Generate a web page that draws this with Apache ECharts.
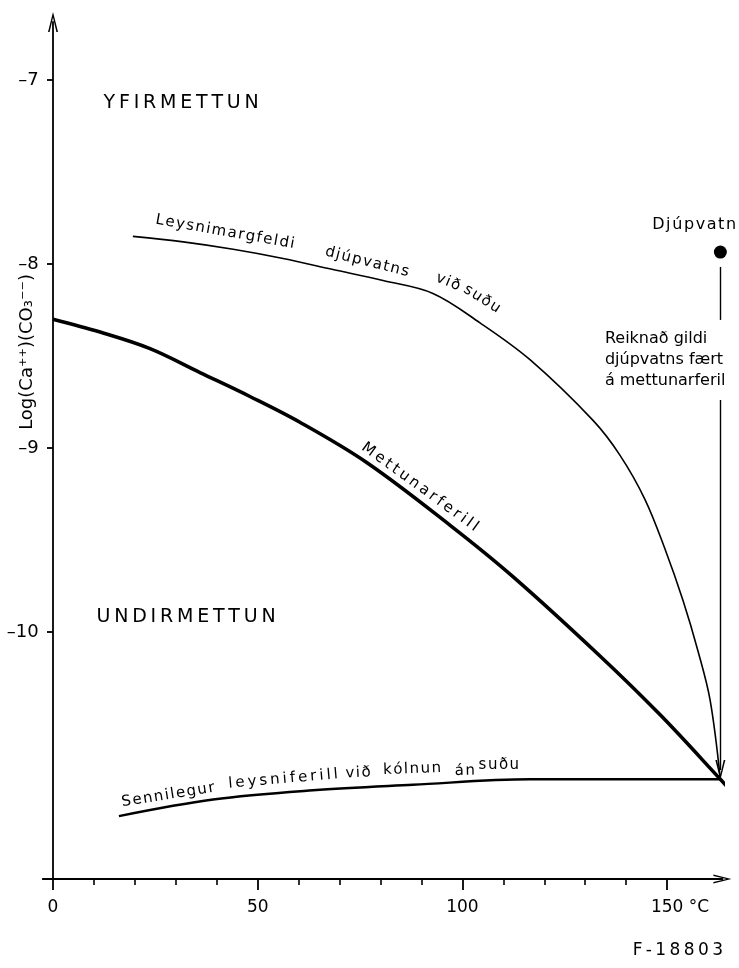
<!DOCTYPE html>
<html>
<head>
<meta charset="utf-8">
<title>Mettunarferill</title>
<script src="https://cdn.jsdelivr.net/npm/echarts@6/dist/echarts.min.js"></script>
<style>
html, body { margin: 0; padding: 0; background: #fff; }
#main { width: 739px; height: 968px; }
</style>
</head>
<body>
<div id="main"></div>
<script>
// hitastig (°C) og Log(Ca++)(CO3--)
var mettunT = [0, 11.5, 23.7, 35.9, 48.1, 60.3, 76.7, 97.0, 112.4, 133.6, 148.3, 163, 167.1];
var mettunLog = [-8.30, -8.37, -8.46, -8.59, -8.72, -8.86, -9.08, -9.42, -9.70, -10.13, -10.45, -10.80, -10.90];

var suduT = [19.5, 31.8, 44.0, 56.2, 68.4, 80.6, 92.8, 104.3, 116.5, 131.9, 138.5, 144.6, 149.5, 153.9, 157.5, 160.5, 163];
var suduLog = [-7.85, -7.88, -7.92, -7.97, -8.03, -8.09, -8.16, -8.32, -8.52, -8.85, -9.04, -9.28, -9.55, -9.83, -10.10, -10.37, -10.80];

var kolnunT = [16.1, 39.1, 63.5, 87.9, 116.5, 138.5, 163];
var kolnunLog = [-11.00, -10.91, -10.86, -10.83, -10.80, -10.80, -10.80];

var djupvatn = [163, -7.935];

var xTicks = [0, 50, 100, 150];
var xMinorTicks = [10, 20, 30, 40, 60, 70, 80, 90, 110, 120, 130, 140];
var yTicks = [-10, -9, -8, -7];

var chart = echarts.init(document.getElementById('main'));
var font = 'DejaVu Sans';
var ink = '#000';
var chevron = 'path://M0,20 L5,0 L10,20 L8.4,20 L5,5.5 L1.6,20 Z';
var THIN = '\u2009', HAIR = '\u200A';

function zip(a, b) {
	return a.map(function (v, i) { return [v, b[i]]; });
}
function sp(s, gap) {
	return s.split('').join(gap || THIN);
}

// textar a myndinni
var notes = [
	{ text: sp('YFIRMETTUN'), at: [31.3, -7.125], rot: 0, size: 19 },
	{ text: sp('UNDIRMETTUN'), at: [32.5, -9.918], rot: 0, size: 19 },
	{ text: sp('Leysnimargfeldi', HAIR), at: [42.0, -7.826], rot: -10 },
	{ text: sp('djúpvatns', HAIR), at: [76.7, -7.989], rot: -14 },
	{ text: sp('við', HAIR), at: [96.5, -8.098], rot: -22 },
	{ text: sp('suðu', HAIR), at: [104.8, -8.19], rot: -32 },
	{ text: sp('Mettunarferill'), at: [89.6, -9.212], rot: -36 },
	{ text: sp('Sennilegur', HAIR), at: [28.1, -10.886], rot: 9 },
	{ text: sp('leysniferill'), at: [56.2, -10.799], rot: 5 },
	{ text: sp('við', HAIR), at: [74.5, -10.766], rot: 3 },
	{ text: sp('kólnun', HAIR), at: [87.7, -10.745], rot: 2 },
	{ text: sp('án', HAIR), at: [100.6, -10.755], rot: 1 },
	{ text: sp('suðu', HAIR), at: [108.9, -10.723], rot: 0 },
	{ text: sp('Djúpvatn', HAIR), at: [156.6, -7.788], rot: 0, size: 16 },
	{ text: 'Reiknað gildi\ndjúpvatns fært\ná mettunarferil', at: [134.8, -8.348], rot: 0, size: 16, align: 'left', valign: 'top', lh: 21 },
	{ text: 'Log(Ca⁺⁺)(CO₃⁻⁻)', at: [-6.35, -8.478], rot: 90, size: 18 }
];

option = {
	animation: false,
	backgroundColor: '#fff',
	grid: {
		left: 42.77,
		right: 16.6,
		top: 22,
		bottom: 89,
		containLabel: false,
		outerBoundsMode: 'none'
	},
	xAxis: [{
		type: 'value',
		min: -2.5,
		max: 163.5,
		position: 'bottom',
		axisLine: {
			show: true,
			onZero: false,
			symbol: ['none', chevron],
			symbolSize: [15, 18],
			lineStyle: { color: ink, width: 1.8 }
		},
		axisTick: {
			show: true,
			inside: false,
			length: 11,
			customValues: xTicks,
			lineStyle: { color: ink, width: 1.8 }
		},
		axisLabel: {
			customValues: xTicks,
			margin: 20,
			color: ink,
			fontFamily: font,
			fontSize: 17,
			formatter: function (v) {
				return v === 150 ? '{h|°C }150 °C' : String(v);
			},
			rich: { h: { color: 'rgba(0,0,0,0)', fontFamily: font, fontSize: 17 } }
		},
		splitLine: { show: false }
	}, {
		type: 'value',
		min: -2.5,
		max: 163.5,
		position: 'bottom',
		axisLine: { show: false, onZero: false },
		axisTick: {
			show: true,
			length: 6,
			customValues: xMinorTicks,
			lineStyle: { color: ink, width: 1.6 }
		},
		axisLabel: { show: false },
		splitLine: { show: false }
	}],
	yAxis: {
		type: 'value',
		min: -11.342,
		max: -6.685,
		axisLine: {
			show: true,
			onZero: true,
			symbol: ['none', chevron],
			symbolSize: [15, 20],
			lineStyle: { color: ink, width: 1.8 }
		},
		axisTick: {
			show: true,
			length: 6,
			customValues: yTicks,
			lineStyle: { color: ink, width: 1.8 }
		},
		axisLabel: {
			customValues: yTicks,
			margin: 4,
			color: ink,
			fontFamily: font,
			fontSize: 18,
			formatter: function (v) { return '–' + Math.abs(v); }
		},
		splitLine: { show: false }
	},
	series: [{
		name: 'Mettunarferill',
		type: 'line',
		data: zip(mettunT, mettunLog),
		showSymbol: false,
		smooth: 0.35,
		clip: false,
		lineStyle: { color: ink, width: 3.6 }
	}, {
		name: 'Leysnimargfeldi',
		type: 'line',
		data: zip(suduT, suduLog),
		showSymbol: false,
		smooth: 0.35,
		clip: false,
		lineStyle: { color: ink, width: 1.6 }
	}, {
		name: 'Sennilegur leysniferill',
		type: 'line',
		data: zip(kolnunT, kolnunLog),
		showSymbol: false,
		smooth: 0.35,
		clip: false,
		lineStyle: { color: ink, width: 2.4 }
	}, {
		name: 'Djúpvatn',
		type: 'scatter',
		data: [djupvatn],
		symbolSize: 13,
		clip: false,
		itemStyle: { color: ink, opacity: 1 },
		markLine: {
			silent: true,
			symbol: ['none', 'none'],
			label: { show: false },
			lineStyle: { color: ink, width: 1.4, type: 'solid', opacity: 1 },
			data: [
				[{ coord: [djupvatn[0], -8.016] }, { coord: [djupvatn[0], -8.304] }],
				[{ coord: [djupvatn[0], -8.739] }, { coord: [djupvatn[0], -10.75], symbol: chevron, symbolSize: [10, 20] }]
			]
		}
	}, {
		name: 'textar',
		type: 'scatter',
		symbolSize: 0.1,
		clip: false,
		silent: true,
		itemStyle: { color: 'rgba(0,0,0,0)', opacity: 1 },
		label: {
			show: true,
			position: 'inside',
			color: ink,
			textBorderWidth: 0,
			fontFamily: font,
			fontSize: 15
		},
		data: notes.map(function (n) {
			return {
				value: n.at,
				label: {
					formatter: n.text,
					rotate: n.rot,
					color: ink,
					fontSize: n.size || 15,
					align: n.align || 'center',
					verticalAlign: n.valign || 'middle',
					lineHeight: n.lh || 18
				}
			};
		})
	}],
	graphic: [{
		type: 'text',
		right: 16,
		top: 942,
		style: {
			text: sp('F-18803'),
			fill: ink,
			font: '17px "DejaVu Sans"'
		}
	}]
};
chart.setOption(option);
window.onresize = chart.resize;
</script>
</body>
</html>
